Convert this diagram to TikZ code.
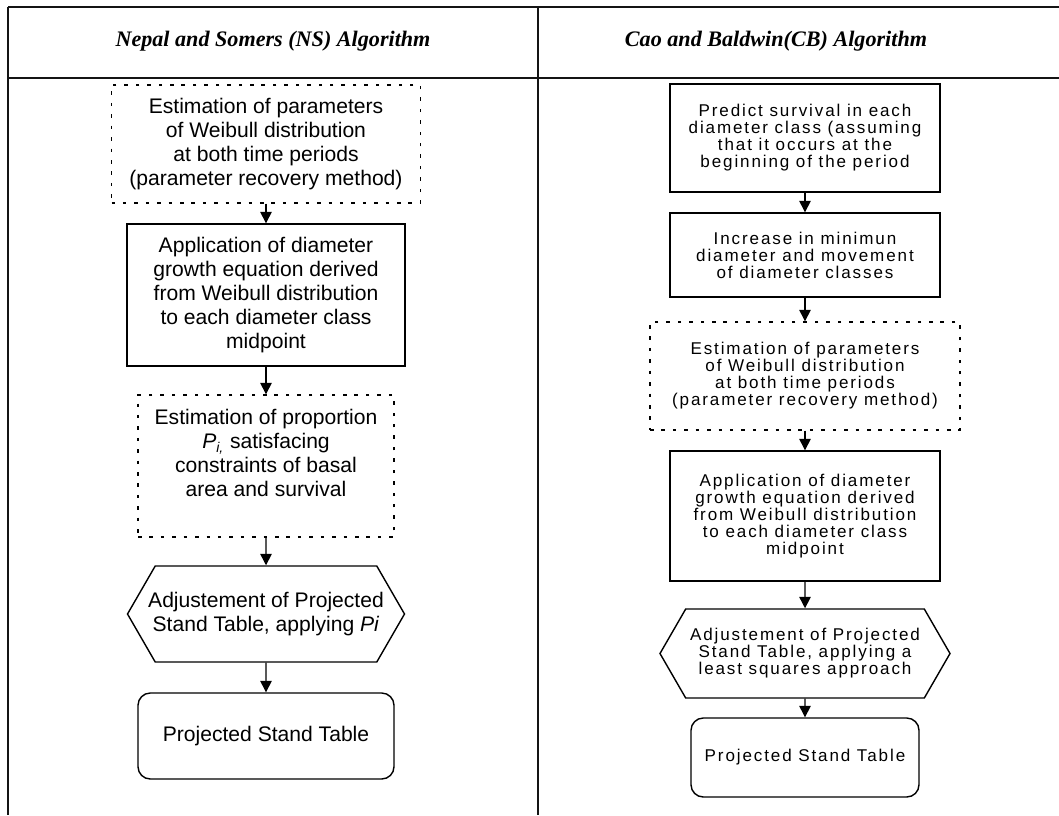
\documentclass[tikz,border=0pt]{standalone}
\usepackage{fontspec}
\setmainfont{Liberation Sans}
\newfontfamily\headfont{Liberation Serif}
\newfontfamily\spacedfont[LetterSpace=11]{Liberation Sans}
\usetikzlibrary{shapes.symbols, arrows.meta, positioning}
\definecolor{rulegray}{RGB}{20, 20, 20}
\tikzset{
    stepbox/.style={rectangle, draw, line width=0.8pt, align=center, inner sep=2pt},
    dottedbox/.style={stepbox, dash pattern=on 2pt off 4.5pt},
    adjustbox/.style={signal, signal to=west and east, signal pointer angle=120, draw, line width=0.8pt, align=center, inner sep=1pt},
    resultbox/.style={stepbox, rounded corners=7pt},
    nsfont/.style={font=\fontsize{12}{13.6}\selectfont},
    cbfont/.style={font=\spacedfont\fontsize{9.7}{9.7}\selectfont},
    header/.style={font=\headfont\bfseries\itshape\fontsize{12.6}{14}\selectfont},
    arrow/.style={line width=0.8pt, -{Triangle[length=6.5pt, width=6.5pt]}},
    tablerule/.style={line width=1.3pt, rulegray}
}
\begin{document}
\begin{tikzpicture}
    \useasboundingbox (0,0) rectangle (21.18,-16.3);
    % table frame
    \draw[tablerule] (0.16,-0.14) -- (21.18,-0.14);
    \draw[tablerule] (0.16,-1.56) -- (21.18,-1.56);
    \draw[tablerule] (0.16,-0.14) -- (0.16,-16.3);
    \draw[tablerule] (10.76,-0.14) -- (10.76,-16.3);
    \node[header] (nshead) at (5.46,-0.82) {Nepal and Somers (NS) Algorithm};
    \node[header] (cbhead) at (15.52,-0.82) {Cao and Baldwin(CB) Algorithm};
    % NS column
    \node[dottedbox, nsfont, minimum width=6.18cm, minimum height=2.36cm] (nsest) at (5.32,-2.88) {Estimation of parameters\\of Weibull distribution\\at both time periods\\(parameter recovery method)};
    \node[stepbox, nsfont, minimum width=5.56cm, minimum height=2.84cm] (nsapp) at (5.32,-5.9) {Application of diameter\\growth equation derived\\from Weibull distribution\\to each diameter class\\midpoint};
    \node[dottedbox, nsfont, minimum width=5.12cm, minimum height=2.84cm] (nsprop) at (5.32,-9.32) {Estimation of proportion\\\textit{P}\textsubscript{\textit{i,}} satisfacing\\constraints of basal\\area and survival\\[1pt]};
    \node[adjustbox, nsfont, inner xsep=-4.5pt, minimum width=5.54cm, minimum height=1.92cm] (nsadj) at (5.32,-12.28) {Adjustement of Projected\\Stand Table, applying \textit{Pi}};
    \node[resultbox, nsfont, minimum width=5.12cm, minimum height=1.72cm] (nsproj) at (5.32,-14.72) {Projected Stand Table};
    \draw[arrow] (nsest) -- (nsapp);
    \draw[arrow] (nsapp) -- (nsprop);
    \draw[arrow] (nsprop) -- (nsadj);
    \draw[arrow] (nsadj) -- (nsproj);
    % CB column
    \node[stepbox, cbfont, minimum width=5.4cm, minimum height=2.16cm] (cbsurv) at (16.1,-2.76) {Predict survival in each\\diameter class (assuming\\that it occurs at the\\beginning of the period};
    \node[stepbox, cbfont, minimum width=5.4cm, minimum height=1.68cm] (cbmin) at (16.1,-5.1) {Increase in minimun\\diameter and movement\\of diameter classes};
    \node[dottedbox, cbfont, minimum width=6.2cm, minimum height=2.16cm] (cbest) at (16.1,-7.52) {Estimation of parameters\\of Weibull distribution\\at both time periods\\(parameter recovery method)};
    \node[stepbox, cbfont, minimum width=5.4cm, minimum height=2.6cm] (cbapp) at (16.1,-10.32) {Application of diameter\\growth equation derived\\from Weibull distribution\\to each diameter class\\midpoint};
    \node[adjustbox, cbfont, minimum width=5.8cm, minimum height=1.78cm] (cbadj) at (16.1,-13.07) {Adjustement of Projected\\Stand Table, applying a\\least squares approach};
    \node[resultbox, cbfont, minimum width=4.56cm, minimum height=1.58cm] (cbproj) at (16.1,-15.15) {Projected Stand Table};
    \draw[arrow] (cbsurv) -- (cbmin);
    \draw[arrow] (cbmin) -- (cbest);
    \draw[arrow] (cbest) -- (cbapp);
    \draw[arrow] (cbapp) -- (cbadj);
    \draw[arrow] (cbadj) -- (cbproj);
\end{tikzpicture}
\end{document}
